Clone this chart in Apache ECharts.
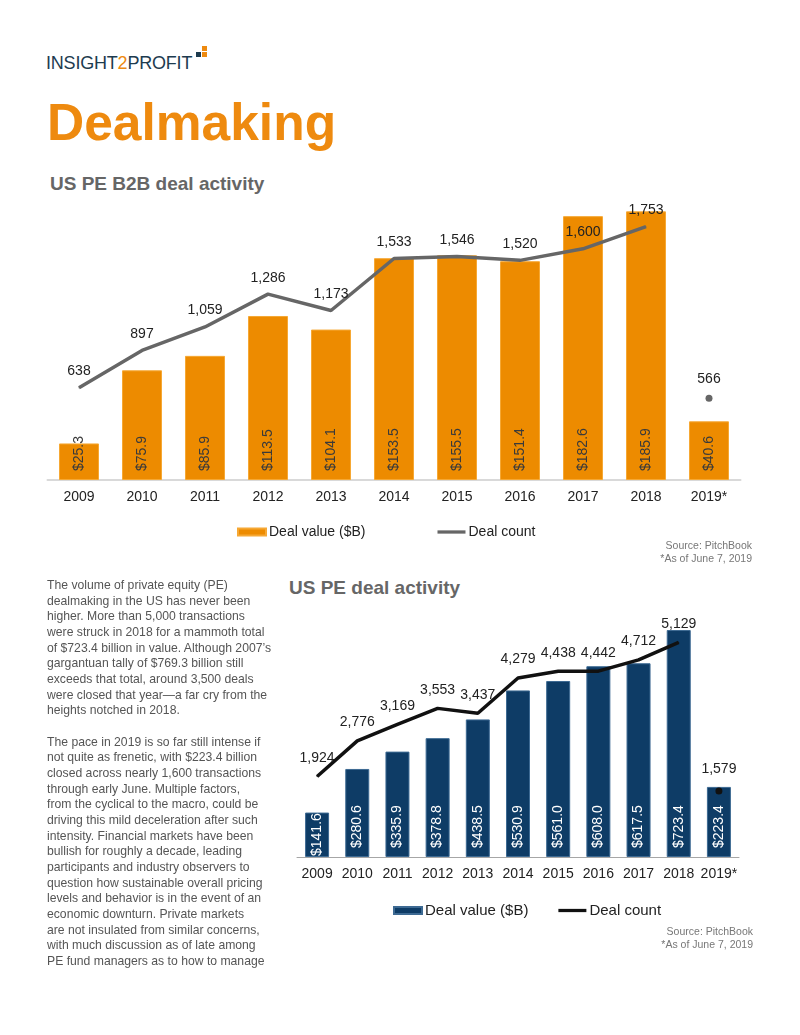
<!DOCTYPE html>
<html>
<head>
<meta charset="utf-8">
<script src="https://cdn.jsdelivr.net/npm/echarts@6/dist/echarts.min.js"></script>
<style>
  html, body { margin: 0; padding: 0; background: #fff; }
  body { width: 800px; height: 1035px; position: relative; overflow: hidden;
         font-family: "Liberation Sans", Arial, sans-serif; }
  .abs { position: absolute; white-space: nowrap; }
  #logo { left: 46px; top: 53px; font-size: 18px; line-height: 20px; color: #1d3b4f; letter-spacing: -0.2px; }
  #logo span { color: #ee8a0f; }
  .sq { position: absolute; width: 5px; height: 5px; }
  #title { left: 47px; top: 97px; font-size: 51.5px; line-height: 51.5px; font-weight: bold; color: #ee8a0f; }
  .sub { font-size: 19px; line-height: 19px; font-weight: bold; color: #666; }
  .src { font-size: 10.5px; line-height: 12.5px; color: #777; text-align: right; }
  #para { left: 47px; top: 578px; font-size: 12.2px; line-height: 15.67px; color: #555; }
  #chart1 { position: absolute; left: 0; top: 160px; width: 800px; height: 420px; }
  #chart2 { position: absolute; left: 280px; top: 600px; width: 500px; height: 330px; }
</style>
</head>
<body>
<div id="logo" class="abs">INSIGHT<span>2</span>PROFIT</div>
<div class="sq" style="left:202px;top:46px;background:#ee8a0f"></div>
<div class="sq" style="left:196px;top:52px;background:#1d3b4f"></div>
<div class="sq" style="left:202px;top:52px;background:#ee8a0f"></div>
<div id="title" class="abs">Dealmaking</div>
<div class="abs sub" style="left:50px;top:174px">US PE B2B deal activity</div>
<div class="abs sub" style="left:289px;top:578px">US PE deal activity</div>

<div id="chart1"></div>
<div id="chart2"></div>

<div class="abs src" style="right:48px;top:539px">Source: PitchBook<br>*As of June 7, 2019</div>
<div class="abs src" style="right:47px;top:925px">Source: PitchBook<br>*As of June 7, 2019</div>

<div id="para" class="abs">The volume of private equity (PE)<br>dealmaking in the US has never been<br>higher. More than 5,000 transactions<br>were struck in 2018 for a mammoth total<br>of $723.4 billion in value. Although 2007’s<br>gargantuan tally of $769.3 billion still<br>exceeds that total, around 3,500 deals<br>were closed that year—a far cry from the<br>heights notched in 2018.<br><br>The pace in 2019 is so far still intense if<br>not quite as frenetic, with $223.4 billion<br>closed across nearly 1,600 transactions<br>through early June. Multiple factors,<br>from the cyclical to the macro, could be<br>driving this mild deceleration after such<br>intensity. Financial markets have been<br>bullish for roughly a decade, leading<br>participants and industry observers to<br>question how sustainable overall pricing<br>levels and behavior is in the event of an<br>economic downturn. Private markets<br>are not insulated from similar concerns,<br>with much discussion as of late among<br>PE fund managers as to how to manage</div>

<script>
const years = ['2009', '2010', '2011', '2012', '2013', '2014', '2015', '2016', '2017', '2018', '2019*'];

// US PE B2B deal activity
const b2bValue = [25.3, 75.9, 85.9, 113.5, 104.1, 153.5, 155.5, 151.4, 182.6, 185.9, 40.6];
const b2bCount = [638, 897, 1059, 1286, 1173, 1533, 1546, 1520, 1600, 1753, 566];

// US PE deal activity
const peValue = [141.6, 280.6, 335.9, 378.8, 438.5, 530.9, 561.0, 608.0, 617.5, 723.4, 223.4];
const peCount = [1924, 2776, 3169, 3553, 3437, 4279, 4438, 4442, 4712, 5129, 1579];

// last year is partial, its count is drawn as a lone dot
const partial = years.length - 1;

const FONT = '"Liberation Sans", Arial, sans-serif';
const TEXT = '#222222';
const lineIcon = 'path://M0,0 H30 V3.5 H0 Z';

function fmtCount(v) {
    return v.toLocaleString('en-US');
}

function buildOption(cfg) {
    const countLine = cfg.count.map((v, i) => i === partial ? '-' : v);
    const countDot = cfg.count.map((v, i) => i === partial ? v : '-');
    const countLabel = {
        show: true,
        position: 'top',
        distance: cfg.labelDist,
        color: TEXT,
        opacity: 1,
        fontSize: 14,
        fontFamily: FONT,
        formatter: p => fmtCount(p.value)
    };
    return {
        animation: false,
        textStyle: { fontFamily: FONT },
        grid: cfg.grid,
        legend: {
            left: cfg.legendLeft,
            top: cfg.legendTop,
            itemGap: cfg.legendGap,
            itemWidth: 28,
            itemHeight: 7,
            textStyle: { color: TEXT, fontSize: cfg.legendFont, fontFamily: FONT, padding: [0, 0, 0, -2] },
            data: [
                { name: 'Deal value ($B)', icon: 'rect' },
                { name: 'Deal count', icon: lineIcon }
            ]
        },
        xAxis: {
            type: 'category',
            data: years,
            axisTick: { show: false },
            axisLine: { lineStyle: { color: cfg.axisColor, width: cfg.axisWidth } },
            axisLabel: { color: TEXT, fontSize: 14, margin: 10, interval: 0, fontFamily: FONT }
        },
        yAxis: [
            { type: 'value', min: 0, max: cfg.valueMax, show: false, splitLine: { show: false } },
            { type: 'value', min: 0, max: cfg.countMax, show: false, splitLine: { show: false } }
        ],
        series: [
            {
                name: 'Deal value ($B)',
                type: 'bar',
                data: cfg.value.map((v, i) => i === 0 && cfg.firstLabelDist != null
                    ? { value: v, label: { distance: cfg.firstLabelDist } }
                    : v),
                barWidth: cfg.barWidth,
                itemStyle: { color: cfg.barColor, borderColor: cfg.barBorder, borderWidth: 1 },
                label: {
                    show: true,
                    position: 'insideBottom',
                    rotate: 90,
                    align: 'left',
                    verticalAlign: 'middle',
                    distance: 9,
                    color: cfg.barLabelColor,
                    fontSize: 14,
                    fontFamily: FONT,
                    formatter: p => '$' + p.value.toFixed(1)
                }
            },
            {
                name: 'Deal count',
                type: 'line',
                yAxisIndex: 1,
                data: countLine,
                symbol: 'circle',
                symbolSize: 1,
                itemStyle: { color: cfg.lineColor },
                lineStyle: { color: cfg.lineColor, width: 3.5 },
                label: countLabel,
                z: 3
            },
            {
                name: 'Deal count',
                type: 'scatter',
                yAxisIndex: 1,
                data: countDot,
                symbolSize: 7,
                itemStyle: { color: cfg.lineColor, opacity: 1 },
                label: countLabel,
                z: 3
            }
        ]
    };
}

const chart1 = echarts.init(document.getElementById('chart1'));
chart1.setOption(buildOption({
    grid: { left: 47.5, top: 31, width: 693, height: 289 },
    value: b2bValue,
    count: b2bCount,
    valueMax: 200,
    countMax: 2000,
    barWidth: 40,
    barColor: '#ed8b00',
    barBorder: '#f6a834',
    barLabelColor: '#3a3a3a',
    lineColor: '#666666',
    axisColor: '#d9d9d9',
    axisWidth: 2,
    labelDist: 9,
    legendLeft: 232,
    legendTop: 360,
    legendGap: 72,
    legendFont: 14
}));

const chart2 = echarts.init(document.getElementById('chart2'));
chart2.setOption(buildOption({
    grid: { left: 17, top: 6, width: 442, height: 251 },
    value: peValue,
    count: peCount,
    valueMax: 800,
    countMax: 6000,
    barWidth: 24,
    barColor: '#0e3c66',
    barBorder: '#3d6a93',
    barLabelColor: '#ffffff',
    lineColor: '#111111',
    axisColor: '#a6a6a6',
    axisWidth: 1,
    labelDist: 11,
    firstLabelDist: 1,
    legendLeft: 108,
    legendTop: 298,
    legendGap: 30,
    legendFont: 15
}));
</script>
</body>
</html>
